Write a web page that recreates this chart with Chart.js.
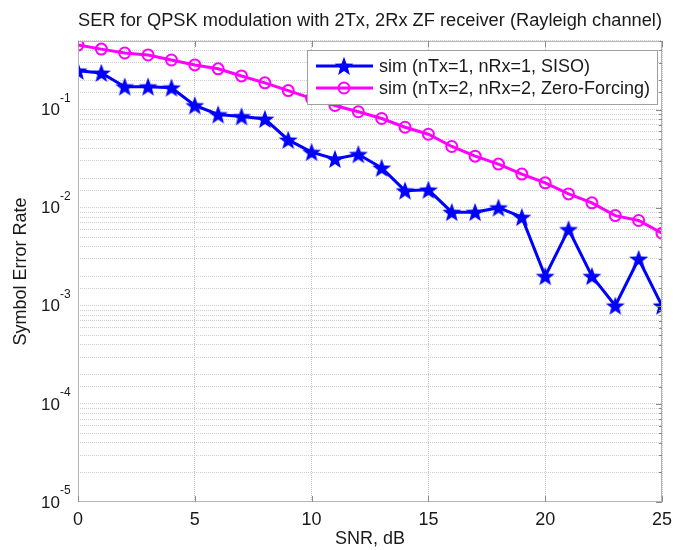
<!DOCTYPE html>
<html>
<head>
<meta charset="utf-8">
<script src="https://cdn.jsdelivr.net/npm/chart.js@4.4.1/dist/chart.umd.min.js"></script>
<style>
  html, body { margin: 0; padding: 0; background: #fff; }
  canvas { display: block; }
</style>
</head>
<body>
<canvas id="chart" width="675" height="550"></canvas>
<script>
// SNR points (dB)
const snrDb = [0, 1, 2, 3, 4, 5, 6, 7, 8, 9, 10, 11, 12, 13, 14, 15, 16, 17, 18, 19, 20, 21, 22, 23, 24, 25];
// nTx=1, nRx=1 (SISO)
const serSiso = [0.248, 0.236, 0.171, 0.171, 0.167, 0.110, 0.089, 0.085, 0.080, 0.049, 0.0368, 0.0313, 0.035, 0.0254, 0.0149, 0.0152,
                 0.009, 0.009, 0.010, 0.008, 0.002, 0.006, 0.002, 0.001, 0.003, 0.001];
// nTx=2, nRx=2 (Zero-Forcing)
const serZf = [0.454, 0.413, 0.377, 0.360, 0.320, 0.285, 0.260, 0.220, 0.187, 0.156, 0.130, 0.110, 0.095, 0.081, 0.066, 0.056,
               0.042, 0.0335, 0.0278, 0.022, 0.0179, 0.0138, 0.0112, 0.0083, 0.0074, 0.0055];
const yDecades = [1e-1, 1e-2, 1e-3, 1e-4, 1e-5];
const yExponents = ['-1', '-2', '-3', '-4', '-5'];

const FONT = "'Liberation Sans', Arial, sans-serif";
const BLUE = '#0000ff';
const MAGENTA = '#ff00ff';

function makeStar(r, color) {
  const s = Math.ceil(r * 2 + 2);
  const c = document.createElement('canvas');
  c.width = s; c.height = s;
  const g = c.getContext('2d');
  g.beginPath();
  for (let i = 0; i < 10; i++) {
    const rad = i % 2 === 0 ? r : r * 0.42;
    const a = -Math.PI / 2 + i * Math.PI / 5;
    const x = s / 2 + rad * Math.cos(a), y = s / 2 + 0.8 + rad * Math.sin(a);
    if (i === 0) g.moveTo(x, y); else g.lineTo(x, y);
  }
  g.closePath();
  g.fillStyle = color;
  g.fill();
  return c;
}
const starImg = makeStar(10, BLUE);

// superscript y labels, box, inner ticks and legend
const matlabLook = {
  id: 'matlabLook',
  afterDraw(chart) {
    const ctx = chart.ctx;
    const a = chart.chartArea;
    const ys = chart.scales.y, xs = chart.scales.x;
    ctx.save();
    // axes box
    ctx.strokeStyle = '#b4b4b4';
    ctx.lineWidth = 1;
    ctx.strokeRect(a.left + 0.5, a.top + 0.5, a.right - a.left - 1, a.bottom - a.top - 1);
    // inward tick marks on right / top
    ctx.strokeStyle = '#8c8c8c';
    ctx.beginPath();
    ys.ticks.forEach(t => {
      const y = Math.round(ys.getPixelForValue(t.value)) + 0.5;
      const len = yDecades.includes(t.value) ? 6 : 3;
      ctx.moveTo(a.right, y); ctx.lineTo(a.right - len, y);
    });
    xs.ticks.forEach(t => {
      const x = Math.round(xs.getPixelForValue(t.value)) + 0.5;
      ctx.moveTo(x, a.top); ctx.lineTo(x, a.top + 6);
      ctx.moveTo(x, a.bottom); ctx.lineTo(x, a.bottom - 6);
    });
    ctx.stroke();

    // y tick labels 10^n
    ctx.fillStyle = '#1a1a1a';
    yDecades.forEach((v, i) => {
      const y = ys.getPixelForValue(v);
      ctx.font = '17px ' + FONT;
      ctx.textAlign = 'right';
      ctx.textBaseline = 'middle';
      ctx.fillText('10', 60, y + 1);
      ctx.font = '12px ' + FONT;
      ctx.textAlign = 'left';
      ctx.fillText(yExponents[i], 60, y - 11);
    });

    // legend
    const lx = 307, ly = 50, lw = 350, lh = 54;
    ctx.fillStyle = '#ffffff';
    ctx.fillRect(lx, ly, lw, lh);
    ctx.strokeStyle = '#a0a0a0';
    ctx.strokeRect(lx + 0.5, ly + 0.5, lw, lh);
    chart.data.datasets.forEach((ds, i) => {
      const cy = ly + 16 + i * 22;
      ctx.strokeStyle = ds.borderColor;
      ctx.lineWidth = 3;
      ctx.beginPath();
      ctx.moveTo(316, cy); ctx.lineTo(373, cy);
      ctx.stroke();
      if (i === 0) {
        ctx.drawImage(starImg, 344 - starImg.width / 2, cy - starImg.height / 2);
      } else {
        ctx.lineWidth = 2;
        ctx.beginPath();
        ctx.arc(344, cy, 5.5, 0, Math.PI * 2);
        ctx.stroke();
      }
      ctx.fillStyle = '#1a1a1a';
      ctx.font = '18px ' + FONT;
      ctx.textAlign = 'left';
      ctx.textBaseline = 'middle';
      ctx.fillText(ds.label, 379, cy + 1);
    });
    ctx.restore();
  }
};

new Chart(document.getElementById('chart'), {
  type: 'line',
  data: {
    labels: snrDb,
    datasets: [{
      label: 'sim (nTx=1, nRx=1, SISO)',
      data: serSiso,
      borderColor: BLUE,
      backgroundColor: BLUE,
      borderWidth: 3,
      pointStyle: starImg,
      pointRadius: 10,
      tension: 0,
      fill: false
    }, {
      label: 'sim (nTx=2, nRx=2, Zero-Forcing)',
      data: serZf,
      borderColor: MAGENTA,
      backgroundColor: 'rgba(0,0,0,0)',
      borderWidth: 3,
      pointStyle: 'circle',
      pointRadius: 5.5,
      pointBorderWidth: 2,
      tension: 0,
      fill: false
    }]
  },
  options: {
    responsive: false,
    animation: false,
    devicePixelRatio: 1,
    layout: { padding: { left: 0, right: 5, top: 0, bottom: 0 } },
    plugins: {
      legend: { display: false },
      tooltip: { enabled: false },
      title: {
        display: true,
        fullSize: false,
        text: 'SER for QPSK modulation with 2Tx, 2Rx ZF receiver (Rayleigh channel)',
        color: '#1a1a1a',
        font: { family: FONT, size: 18.3, weight: 'normal', lineHeight: 1.2 },
        padding: { top: 10, bottom: 9 }
      }
    },
    scales: {
      x: {
        type: 'linear',
        min: 0,
        max: 25,
        afterFit: s => { s.height = 48; s.paddingLeft = 0; s.paddingRight = 0; },
        ticks: { stepSize: 5, color: '#1a1a1a', font: { family: FONT, size: 18 }, padding: 7, maxRotation: 0 },
        grid: { color: '#c4c4c4', borderDash: [1, 1], drawTicks: false },
        border: { display: false, dash: [1, 1] },
        title: { display: true, text: 'SNR, dB', color: '#1a1a1a', font: { family: FONT, size: 18 }, padding: { top: 0, bottom: 0 } }
      },
      y: {
        type: 'logarithmic',
        min: 1e-5,
        max: 0.5,
        afterFit: s => { s.width = 78; },
        ticks: { display: false },
        grid: { color: '#cfcfcf', drawTicks: false },
        border: { display: false, dash: [1, 1] },
        title: { display: true, text: 'Symbol Error Rate', color: '#1a1a1a', font: { family: FONT, size: 18 }, padding: { top: 10, bottom: 0 } }
      }
    }
  },
  plugins: [matlabLook]
});
</script>
</body>
</html>
